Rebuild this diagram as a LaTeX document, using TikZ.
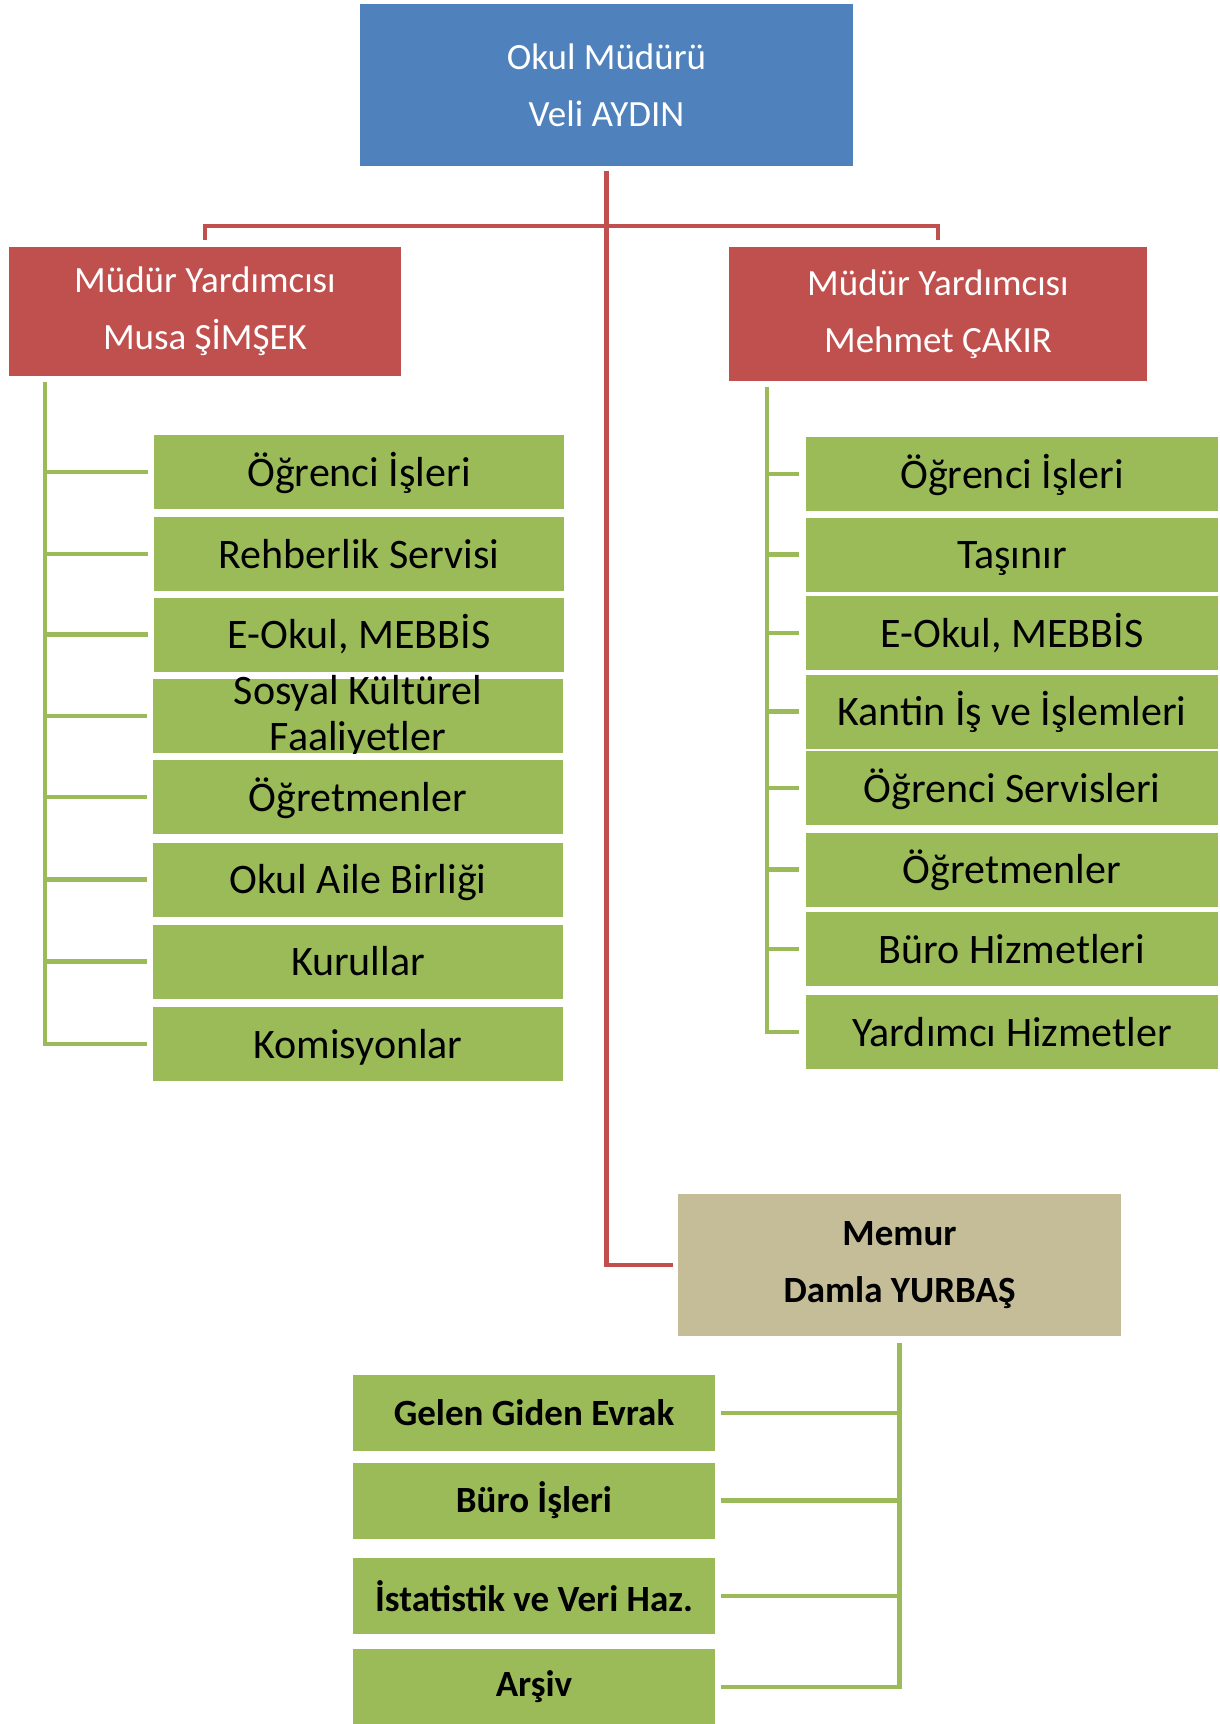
\documentclass[tikz,border=0pt]{standalone}
\usepackage{fontspec}
\setmainfont{Carlito}

\begin{document}
\begin{tikzpicture}[x=1pt, y=-1pt,
  box/.style={inner sep=0pt, outer sep=0pt, align=center},
  headbox/.style={box, fill=headblue, text=white, minimum width=493pt, minimum height=162pt, font=\fontsize{37}{57}\selectfont},
  vicebox/.style={box, fill=vicered, text=white, minimum height=130pt, font=\fontsize{37}{57}\selectfont},
  clerkbox/.style={box, fill=clerktan, minimum width=443pt, minimum height=142pt, font=\bfseries\fontsize{37}{57}\selectfont},
  unitbox/.style={box, fill=unitgreen, minimum height=74pt, text height=33pt, text depth=5pt, font=\fontsize{42}{46}\selectfont},
  deskbox/.style={box, fill=unitgreen, minimum width=362pt, minimum height=76pt, font=\bfseries\fontsize{37}{46}\selectfont},
  rline/.style={draw=vicered, line width=4.5pt},
  gline/.style={draw=unitgreen, line width=4.5pt}]
  \definecolor{headblue}{RGB}{79,129,189}
  \definecolor{vicered}{RGB}{192,80,77}
  \definecolor{clerktan}{RGB}{196,189,151}
  \definecolor{unitgreen}{RGB}{155,187,89}
  \useasboundingbox (0,0) rectangle (1220,1724);

  % top of the chart
  \node[headbox] (mudur) at (606.5,85) {Okul Müdürü\\Veli AYDIN};
  \node[vicebox, minimum width=392pt, minimum height=129pt] (musa) at (205,311.5) {Müdür Yardımcısı\\Musa ŞİMŞEK};
  \node[vicebox, minimum width=418pt, minimum height=134pt] (mehmet) at (938,314) {Müdür Yardımcısı\\Mehmet ÇAKIR};
  \node[clerkbox] (memur) at (899.5,1265) {Memur\\Damla YURBAŞ};

  % left column
  \node[unitbox, minimum width=410pt] (l1) at (359,472) {Öğrenci İşleri};
  \node[unitbox, minimum width=410pt] (l2) at (359,554) {Rehberlik Servisi};
  \node[unitbox, minimum width=410pt] (l3) at (359,634.5) {E-Okul, MEBBİS};
  \node[unitbox, minimum width=410pt] (l4) at (358,716) {};
  \begin{scope}
    \clip ([yshift=12pt]l4.north west) rectangle (l4.south east);
    \node[box, font=\fontsize{42}{46}\selectfont] (l4text) at (l4.center) {Sosyal Kültürel\\Faaliyetler};
  \end{scope}
  \node[unitbox, minimum width=410pt] (l5) at (358,797) {Öğretmenler};
  \node[unitbox, minimum width=410pt] (l6) at (358,879.5) {Okul Aile Birliği};
  \node[unitbox, minimum width=410pt] (l7) at (358,961.5) {Kurullar};
  \node[unitbox, minimum width=410pt] (l8) at (358,1044) {Komisyonlar};

  % right column
  \node[unitbox, minimum width=412pt] (r1) at (1012,474) {Öğrenci İşleri};
  \node[unitbox, minimum width=412pt] (r2) at (1012,554.5) {Taşınır};
  \node[unitbox, minimum width=412pt] (r3) at (1012,633) {E-Okul, MEBBİS};
  \node[unitbox, minimum width=412pt] (r4) at (1012,711.5) {Kantin İş ve İşlemleri};
  \node[unitbox, minimum width=412pt] (r5) at (1012,788) {Öğrenci Servisleri};
  \node[unitbox, minimum width=412pt] (r6) at (1012,869.5) {Öğretmenler};
  \node[unitbox, minimum width=412pt] (r7) at (1012,949) {Büro Hizmetleri};
  \node[unitbox, minimum width=412pt] (r8) at (1012,1032) {Yardımcı Hizmetler};

  % clerk's desks
  \node[deskbox] (d1) at (534,1413) {Gelen Giden Evrak};
  \node[deskbox] (d2) at (534,1500.5) {Büro İşleri};
  \node[deskbox] (d3) at (534,1596) {İstatistik ve Veri Haz.};
  \node[deskbox] (d4) at (534,1687) {Arşiv};

  % red links
  \coordinate (bus) at (606.5,226);
  \draw[rline] ([yshift=7pt]musa.north) |- (bus) -| ([yshift=7pt]mehmet.north);
  \draw[rline] ([yshift=-5pt]mudur.south) |- ([xshift=-5pt]memur.west);

  % green links
  \coordinate (lspine) at ([xshift=36pt,yshift=-6pt]musa.south west);
  \coordinate (rspine) at ([xshift=38pt,yshift=-6pt]mehmet.south west);
  \coordinate (dspine) at ([yshift=-7pt]memur.south);
  \draw[gline] (lspine) |- ([xshift=-6pt]l8.west);
  \draw[gline] (rspine) |- ([xshift=-7pt]r8.west);
  \draw[gline] (dspine) |- ([xshift=6pt]d4.east);
  \foreach \n in {1,...,7} {
    \draw[gline] (lspine |- l\n.west) -- ([xshift=-6pt]l\n.west);
    \draw[gline] (rspine |- r\n.west) -- ([xshift=-7pt]r\n.west);
  }
  \foreach \n in {1,2,3}
    \draw[gline] (dspine |- d\n.east) -- ([xshift=6pt]d\n.east);
\end{tikzpicture}
\end{document}
